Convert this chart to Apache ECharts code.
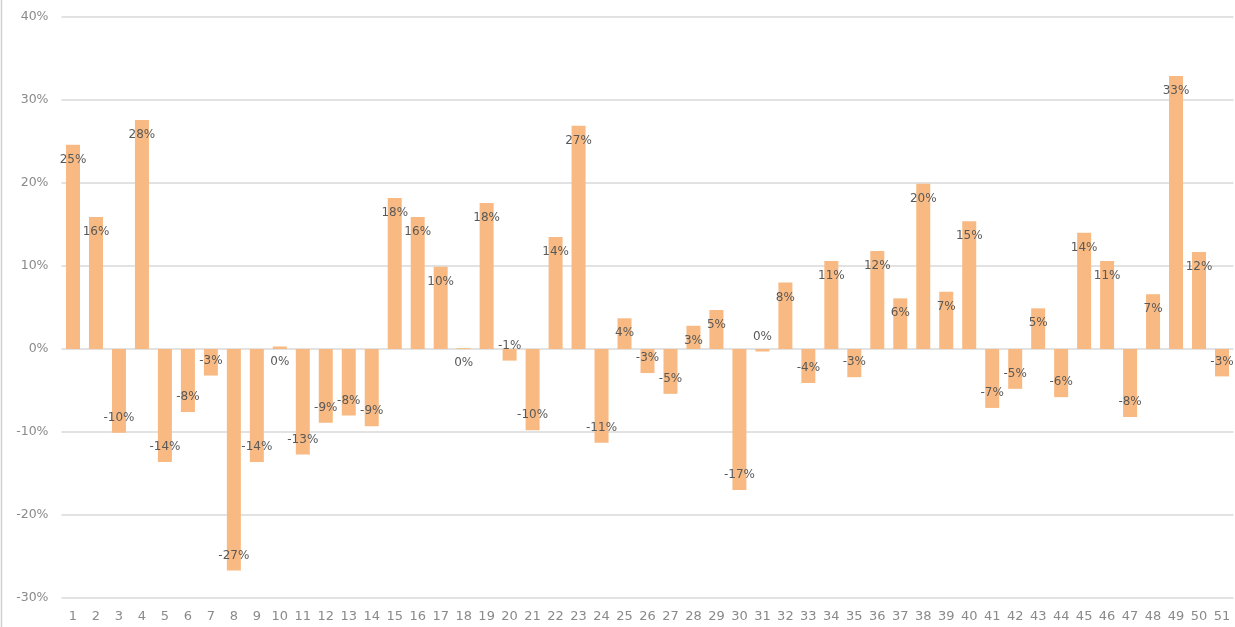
<!DOCTYPE html>
<html>
<head>
<meta charset="utf-8">
<script src="https://cdn.jsdelivr.net/npm/echarts@6/dist/echarts.min.js"></script>
<style>
html,body{margin:0;padding:0;background:#fff;}
#chart{width:1235px;height:627px;}
</style>
</head>
<body>
<div id="chart"></div>
<script>
const categories = Array.from({length: 51}, (_, i) => String(i + 1));
const values = [
  24.6, 15.9, -10.1, 27.6, -13.6, -7.6, -3.2, -26.7, -13.6, 0.3,
  -12.7, -8.9, -8.0, -9.3, 18.2, 15.9, 9.9, 0.1, 17.6, -1.4,
  -9.8, 13.5, 26.9, -11.3, 3.7, -2.9, -5.4, 2.8, 4.7, -17.0,
  -0.3, 8.0, -4.1, 10.6, -3.4, 11.8, 6.1, 19.9, 6.9, 15.4,
  -7.1, -4.8, 4.9, -5.8, 14.0, 10.6, -8.2, 6.6, 32.9, 11.7,
  -3.3
];
const yTicks = { min: -30, max: 40, interval: 10 };

const chart = echarts.init(document.getElementById('chart'));
const data = values.map(v => ({
  value: v,
  label: { position: v >= 0 ? 'insideTop' : 'insideBottom' }
}));

chart.setOption({
  animation: false,
  backgroundColor: '#ffffff',
  grid: { left: 61.5, right: 1.5, top: 17, bottom: 29, containLabel: false },
  xAxis: {
    type: 'category',
    data: categories,
    axisLine: { show: false },
    axisTick: { show: false },
    axisLabel: { color: '#8a8a8a', fontSize: 13, fontFamily: 'DejaVu Sans', margin: 12, interval: 0 }
  },
  yAxis: {
    type: 'value',
    min: yTicks.min, max: yTicks.max, interval: yTicks.interval,
    axisLine: { show: false },
    axisTick: { show: false },
    splitLine: { lineStyle: { color: '#d9d9d9', width: 1.5 } },
    axisLabel: { color: '#8a8a8a', fontSize: 12.5, fontFamily: 'DejaVu Sans', margin: 13, formatter: v => v + '%' }
  },
  series: [{
    type: 'bar',
    data: data,
    barWidth: 14,
    itemStyle: { color: '#F8BA82' },
    label: {
      show: true,
      distance: 9,
      color: '#595959',
      fontSize: 12,
      fontFamily: 'DejaVu Sans',
      formatter: p => Math.round(p.value) + '%'
    }
  }],
  graphic: [{
    type: 'line',
    shape: { x1: 1.5, y1: 0, x2: 1.5, y2: 627 },
    style: { stroke: '#d0d0d0', lineWidth: 1.5 }
  }]
});
</script>
</body>
</html>
